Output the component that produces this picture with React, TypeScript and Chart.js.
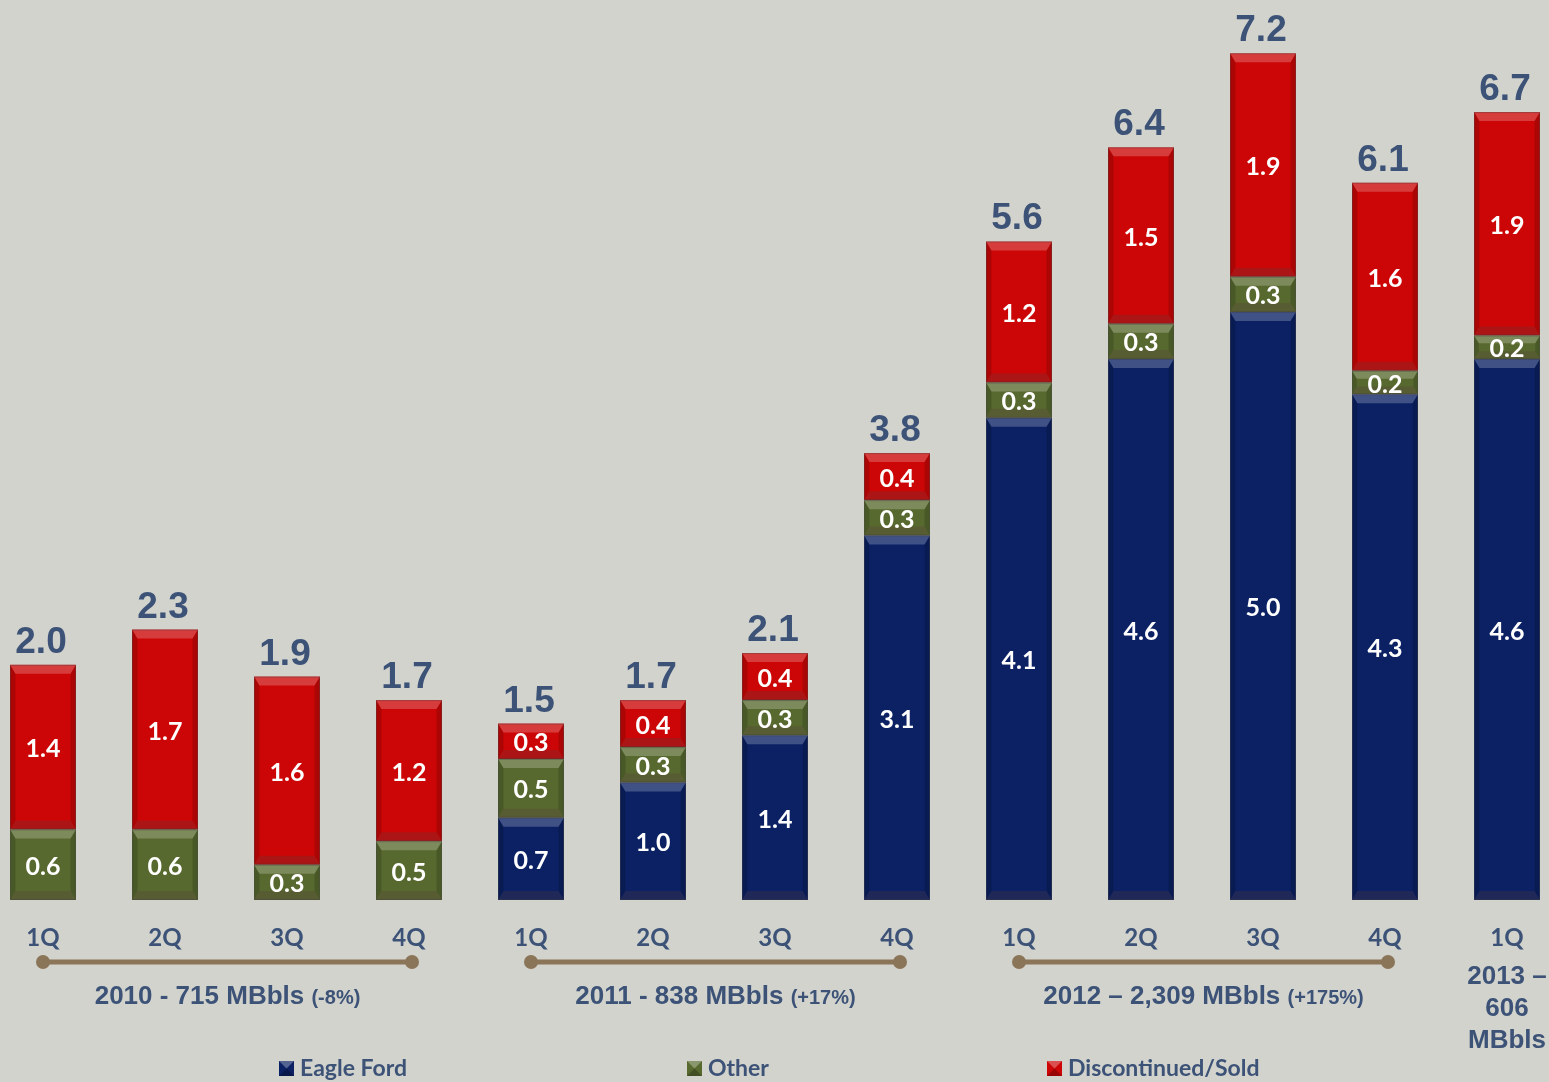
import React, { useEffect, useRef } from "react";
import { Chart, registerables } from "chart.js";

Chart.register(...registerables);

const quarters = ["1Q", "2Q", "3Q", "4Q", "1Q", "2Q", "3Q", "4Q", "1Q", "2Q", "3Q", "4Q", "1Q"];
const eagleFord = [0, 0, 0, 0, 0.7, 1.0, 1.4, 3.1, 4.1, 4.6, 5.0, 4.3, 4.6];
const other = [0.6, 0.6, 0.3, 0.5, 0.5, 0.3, 0.3, 0.3, 0.3, 0.3, 0.3, 0.2, 0.2];
const discontinued = [1.4, 1.7, 1.6, 1.2, 0.3, 0.4, 0.4, 0.4, 1.2, 1.5, 1.9, 1.6, 1.9];
const totals = [2.0, 2.3, 1.9, 1.7, 1.5, 1.7, 2.1, 3.8, 5.6, 6.4, 7.2, 6.1, 6.7];

const groupLabels = ["2010 - 715 MBbls", "2011 - 838 MBbls", "2012 \u2013 2,309 MBbls"];
const groupPcts = ["(-8%)", "(+17%)", "(+175%)"];
const groupStart = [0, 4, 8];
const groupEnd = [3, 7, 11];
const lastGroupLines = ["2013 \u2013", "606", "MBbls"];

const seriesNames = ["Eagle Ford", "Other", "Discontinued/Sold"];
const seriesColors = ["#0b2163", "#58692f", "#cc0606"];

const BG = "#d2d3cd";
const TEXT = "#3c5277";
const LINE = "#8b7558";
const OFFSET = 18; // canvas shifted left by this amount

const bevelPlugin = {
  id: "bevel",
  afterDatasetsDraw(chart: any) {
    const ctx = chart.ctx;
    chart.data.datasets.forEach((ds: any, di: number) => {
      const meta = chart.getDatasetMeta(di);
      meta.data.forEach((el: any, i: number) => {
        const v = ds.data[i];
        if (!v) return;
        const p = el.getProps(["x", "y", "base", "width"], true);
        const l = p.x - p.width / 2;
        const r = p.x + p.width / 2;
        const t = Math.min(p.y, p.base);
        const b = Math.max(p.y, p.base);
        const h = b - t;
        const bv = Math.min(9, h / 3);
        ctx.save();
        ctx.fillStyle = "rgba(0,0,0,0.16)";
        ctx.beginPath();
        ctx.moveTo(l, t); ctx.lineTo(l + bv * 0.6, t + bv); ctx.lineTo(l + bv * 0.6, b - bv); ctx.lineTo(l, b); ctx.closePath();
        ctx.fill();
        ctx.beginPath();
        ctx.moveTo(r, t); ctx.lineTo(r - bv * 0.6, t + bv); ctx.lineTo(r - bv * 0.6, b - bv); ctx.lineTo(r, b); ctx.closePath();
        ctx.fill();
        ctx.fillStyle = "rgba(255,255,255,0.22)";
        ctx.beginPath();
        ctx.moveTo(l, t); ctx.lineTo(r, t); ctx.lineTo(r - bv * 0.6, t + bv); ctx.lineTo(l + bv * 0.6, t + bv); ctx.closePath();
        ctx.fill();
        ctx.fillStyle = "rgba(90,60,60,0.28)";
        ctx.beginPath();
        ctx.moveTo(l, b); ctx.lineTo(r, b); ctx.lineTo(r - bv * 0.6, b - bv); ctx.lineTo(l + bv * 0.6, b - bv); ctx.closePath();
        ctx.fill();
        ctx.strokeStyle = "rgba(60,60,60,0.35)";
        ctx.lineWidth = 1;
        ctx.strokeRect(l + 0.5, t + 0.5, p.width - 1, h - 1);
        ctx.restore();
      });
    });
  },
};

const labelsPlugin = {
  id: "labels",
  afterDatasetsDraw(chart: any) {
    const ctx = chart.ctx;
    ctx.save();
    ctx.textAlign = "center";
    ctx.textBaseline = "middle";
    ctx.fillStyle = "#ffffff";
    ctx.font = "bold 25px Lato";
    chart.data.datasets.forEach((ds: any, di: number) => {
      const meta = chart.getDatasetMeta(di);
      meta.data.forEach((el: any, i: number) => {
        const v = ds.data[i];
        if (!v) return;
        const p = el.getProps(["x", "y", "base"], true);
        ctx.fillText(v.toFixed(1), p.x, (p.y + p.base) / 2 + 2);
      });
    });
    const topMeta = chart.getDatasetMeta(chart.data.datasets.length - 1);
    ctx.fillStyle = TEXT;
    ctx.font = "bold 37px 'Liberation Sans'";
    ctx.textBaseline = "alphabetic";
    topMeta.data.forEach((el: any, i: number) => {
      const p = el.getProps(["x", "y"], true);
      ctx.fillText(totals[i].toFixed(1), p.x - 2, p.y - 12);
    });
    ctx.restore();
  },
  afterDraw(chart: any) {
    const ctx = chart.ctx;
    const xs = chart.scales.x;
    ctx.save();
    groupLabels.forEach((lab, g) => {
      const x1 = xs.getPixelForValue(groupStart[g]);
      const x2 = xs.getPixelForValue(groupEnd[g]) + 3;
      const y = 962;
      ctx.strokeStyle = LINE;
      ctx.lineWidth = 5;
      ctx.beginPath();
      ctx.moveTo(x1, y);
      ctx.lineTo(x2, y);
      ctx.stroke();
      ctx.fillStyle = LINE;
      [x1, x2].forEach((x) => {
        ctx.beginPath();
        ctx.arc(x, y, 7, 0, Math.PI * 2);
        ctx.fill();
      });
      const cx = (x1 + x2) / 2;
      ctx.font = "bold 26px 'Liberation Sans'";
      const w1 = ctx.measureText(lab + " ").width;
      ctx.font = "bold 20px 'Liberation Sans'";
      const w2 = ctx.measureText(groupPcts[g]).width;
      const sx = cx - (w1 + w2) / 2;
      ctx.fillStyle = TEXT;
      ctx.textAlign = "left";
      ctx.textBaseline = "alphabetic";
      ctx.font = "bold 26px 'Liberation Sans'";
      ctx.fillText(lab + " ", sx, 1004);
      ctx.font = "bold 20px 'Liberation Sans'";
      ctx.fillText(groupPcts[g], sx + w1, 1004);
    });
    const lx = xs.getPixelForValue(quarters.length - 1);
    ctx.font = "bold 26px 'Liberation Sans'";
    ctx.textAlign = "center";
    ctx.textBaseline = "middle";
    ctx.fillStyle = TEXT;
    lastGroupLines.forEach((t, k) => {
      ctx.fillText(t, lx, 977 + k * 32);
    });
    const legendX = [279, 687, 1047];
    const ly = 1069;
    seriesNames.forEach((name, k) => {
      const x = legendX[k] + OFFSET;
      const s = 15;
      const top = ly - 8;
      ctx.fillStyle = seriesColors[k];
      ctx.fillRect(x, top, s, s);
      ctx.fillStyle = "rgba(255,255,255,0.3)";
      ctx.beginPath();
      ctx.moveTo(x, top); ctx.lineTo(x + s, top); ctx.lineTo(x + s / 2, top + s / 2); ctx.closePath();
      ctx.fill();
      ctx.fillStyle = "rgba(0,0,0,0.25)";
      ctx.beginPath();
      ctx.moveTo(x, top + s); ctx.lineTo(x + s, top + s); ctx.lineTo(x + s / 2, top + s / 2); ctx.closePath();
      ctx.fill();
      ctx.fillStyle = TEXT;
      ctx.font = "bold 23px Lato";
      ctx.textAlign = "left";
      ctx.textBaseline = "middle";
      ctx.fillText(name, x + s + 6, ly);
    });
    ctx.restore();
  },
};

export default function App() {
  const ref = useRef<HTMLCanvasElement | null>(null);
  useEffect(() => {
    document.body.style.margin = "0";
    if (!ref.current) return;
    const series = [eagleFord, other, discontinued];
    const chart = new Chart(ref.current, {
      type: "bar",
      data: {
        labels: quarters,
        datasets: series.map((d, k) => ({
          label: seriesNames[k],
          data: d,
          backgroundColor: seriesColors[k],
          borderWidth: 0,
          barPercentage: 0.54,
          categoryPercentage: 1,
        })),
      },
      options: {
        responsive: false,
        animation: false,
        devicePixelRatio: 1,
        layout: { padding: { top: 18, left: 0, right: 0, bottom: 0 } },
        plugins: { legend: { display: false }, tooltip: { enabled: false } },
        scales: {
          x: {
            stacked: true,
            grid: { display: false, drawTicks: false },
            border: { display: false },
            ticks: {
              color: TEXT,
              font: { family: "Lato", size: 24, weight: "bold" },
              padding: 24,
              maxRotation: 0,
              autoSkip: false,
            },
            afterFit: (scale: any) => {
              scale.height = 182;
            },
          },
          y: {
            stacked: true,
            display: false,
            min: 0,
            max: 7.5,
          },
        },
      },
      plugins: [bevelPlugin, labelsPlugin],
    });
    return () => chart.destroy();
  }, []);
  return (
    <div
      style={{
        position: "fixed",
        left: 0,
        top: 0,
        width: 1549,
        height: 1082,
        overflow: "hidden",
        background: BG,
      }}
    >
      <canvas
        ref={ref}
        width={1586}
        height={1082}
        style={{ position: "absolute", left: -OFFSET, top: 0, width: 1586, height: 1082 }}
      />
    </div>
  );
}
